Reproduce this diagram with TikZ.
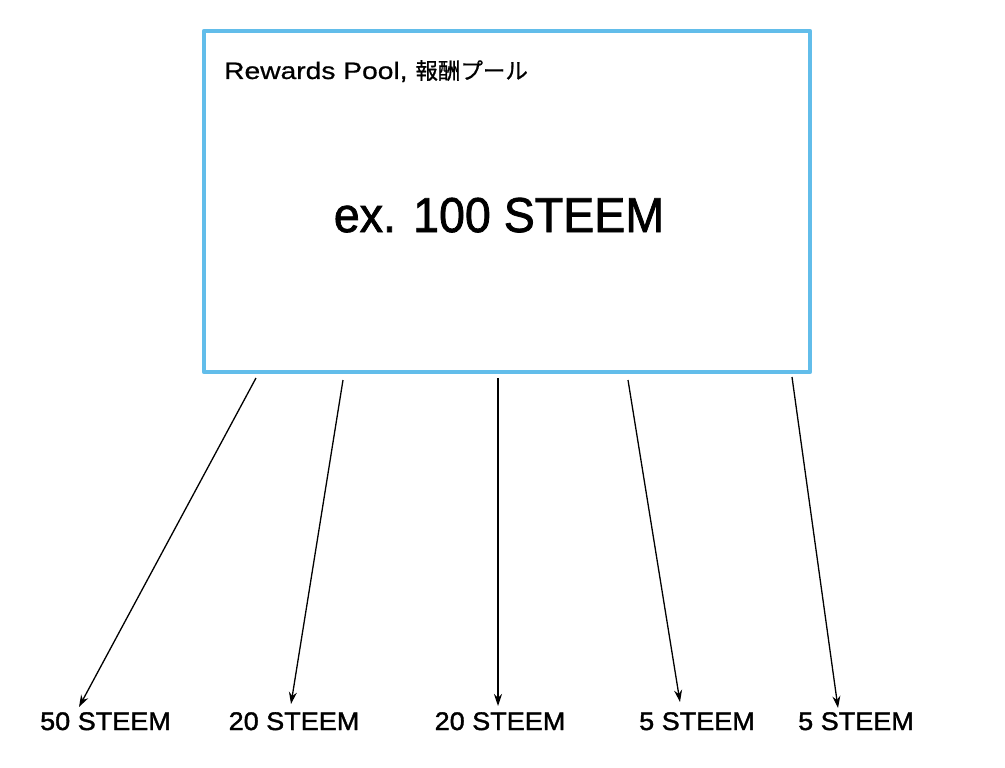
\documentclass[tikz,border=0pt]{standalone}
\usepackage{fontspec}
\setmainfont{Liberation Sans}
\newfontfamily\titlefont{Liberation Sans}[FakeStretch=1.19,FakeBold=0.8]
\newfontfamily\bigfont{Liberation Sans}[FakeStretch=0.95,FakeBold=1.5]
\newfontfamily\amountfont{Liberation Sans}[FakeStretch=1.06,FakeBold=1.5]
\newfontfamily\jp{Noto Sans CJK JP}[FakeBold=0.8]
\usetikzlibrary{arrows.meta}
\definecolor{poolblue}{HTML}{62BDEA}
\tikzset{
  pool/.style={draw=poolblue, line width=4.5pt, line join=round},
  share/.style={-{Stealth[length=12pt,width=8pt]}, line width=1.3pt, black},
  amount/.style={font=\amountfont\fontsize{25.5}{28}\selectfont, inner sep=0pt, anchor=base}
}
\begin{document}
\begin{tikzpicture}[x=1pt,y=-1pt]
\useasboundingbox (0,0) rectangle (1005,768);
\node[pool, minimum width=606pt, minimum height=341pt, inner sep=0pt] (box) at (507,201.5) {};
\node[anchor=base west, inner sep=0pt, font=\titlefont\fontsize{23.7}{26}\selectfont] (title) at (224,79) {Rewards Pool, {\jp\fontsize{22.5}{26}\selectfont 報酬プール}};
\node[anchor=base, inner sep=0pt, font=\bigfont\fontsize{49}{56}\selectfont] (main) at (499,232) {ex. 100 STEEM};
% start points on the box bottom
\coordinate (s1) at (256,378);
\coordinate (s2) at (343,380);
\coordinate (s3) at (498,378);
\coordinate (s4) at (628,380);
\coordinate (s5) at (792,377);
% labels
\node[amount] (l1) at (105.5,730) {50 STEEM};
\node[amount] (l2) at (294,730) {20 STEEM};
\node[amount] (l3) at (500,730) {20 STEEM};
\node[amount] (l4) at (697,730) {5 STEEM};
\node[amount] (l5) at (856,730) {5 STEEM};
% arrow ends
\coordinate (e1) at (79,707);
\coordinate (e2) at (291,704);
\coordinate (e3) at (498,706);
\coordinate (e4) at (680,702);
\coordinate (e5) at (838,708);
\draw[share] (s1) -- (e1);
\draw[share] (s2) -- (e2);
\draw[share] (s3) -- (e3);
\draw[share] (s4) -- (e4);
\draw[share] (s5) -- (e5);
\end{tikzpicture}
\end{document}
